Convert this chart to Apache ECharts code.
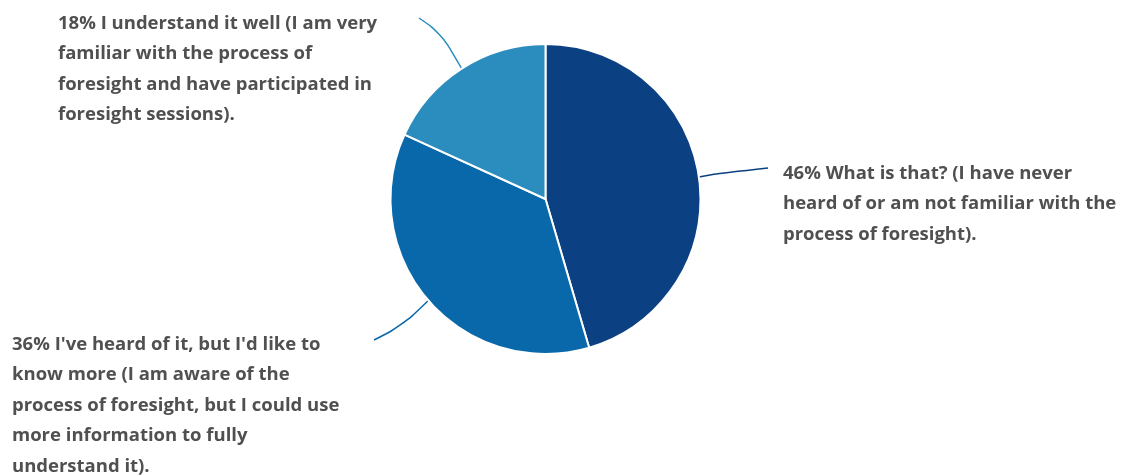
<!DOCTYPE html>
<html>
<head>
<meta charset="utf-8">
<script src="https://cdn.jsdelivr.net/npm/echarts@6/dist/echarts.min.js"></script>
<style>
  html, body { margin: 0; padding: 0; background: #fff; }
  #chart { width: 1125px; height: 476px; }
</style>
</head>
<body>
<div id="chart"></div>
<script>
var categories = [
  "What is that? (I have never\nheard of or am not familiar with the\nprocess of foresight).",
  "I've heard of it, but I'd like to\nknow more (I am aware of the\nprocess of foresight, but I could use\nmore information to fully\nunderstand it).",
  "I understand it well (I am very\nfamiliar with the process of\nforesight and have participated in\nforesight sessions)."
];
// response counts (shown as rounded shares: 46%, 36%, 18%)
var values = [25, 20, 10];
var colors = ['#0b4083', '#0868aa', '#2b8cbe'];

// label top-left corners and where each leader line ends
var labelPos = [[783, 158], [12, 329], [58, 8]];
var lineEnd = [[768, 168], [374, 340], [419, 18]];
var lineBend = [[714, 174], [402, 326], [441, 33]];

var myChart = echarts.init(document.getElementById('chart'));

var data = [];
for (var i = 0; i < values.length; i++) {
  data.push({
    name: categories[i],
    value: values[i],
    itemStyle: { color: colors[i] },
    labelLine: { lineStyle: { color: colors[i] } }
  });
}

myChart.setOption({
  animation: false,
  series: [{
    type: 'pie',
    center: [545.5, 199],
    radius: 155,
    startAngle: 90,
    clockwise: true,
    percentPrecision: 0,
    itemStyle: { borderColor: '#fff', borderWidth: 2 },
    label: {
      show: true,
      formatter: '{d}% {b}',
      color: '#505050',
      fontFamily: '"Open Sans", sans-serif',
      fontWeight: 'bold',
      fontSize: 18.5,
      lineHeight: 30.5,
      align: 'left'
    },
    labelLine: {
      show: true,
      smooth: 0.4,
      lineStyle: { width: 1.5 }
    },
    labelLayout: function (params) {
      var k = params.dataIndex;
      var p = labelPos[k];
      var start = params.labelLinePoints[0];
      return {
        x: p[0], y: p[1], align: 'left', verticalAlign: 'top',
        labelLinePoints: [start, lineBend[k], lineEnd[k]]
      };
    },
    data: data
  }]
});
</script>
</body>
</html>
